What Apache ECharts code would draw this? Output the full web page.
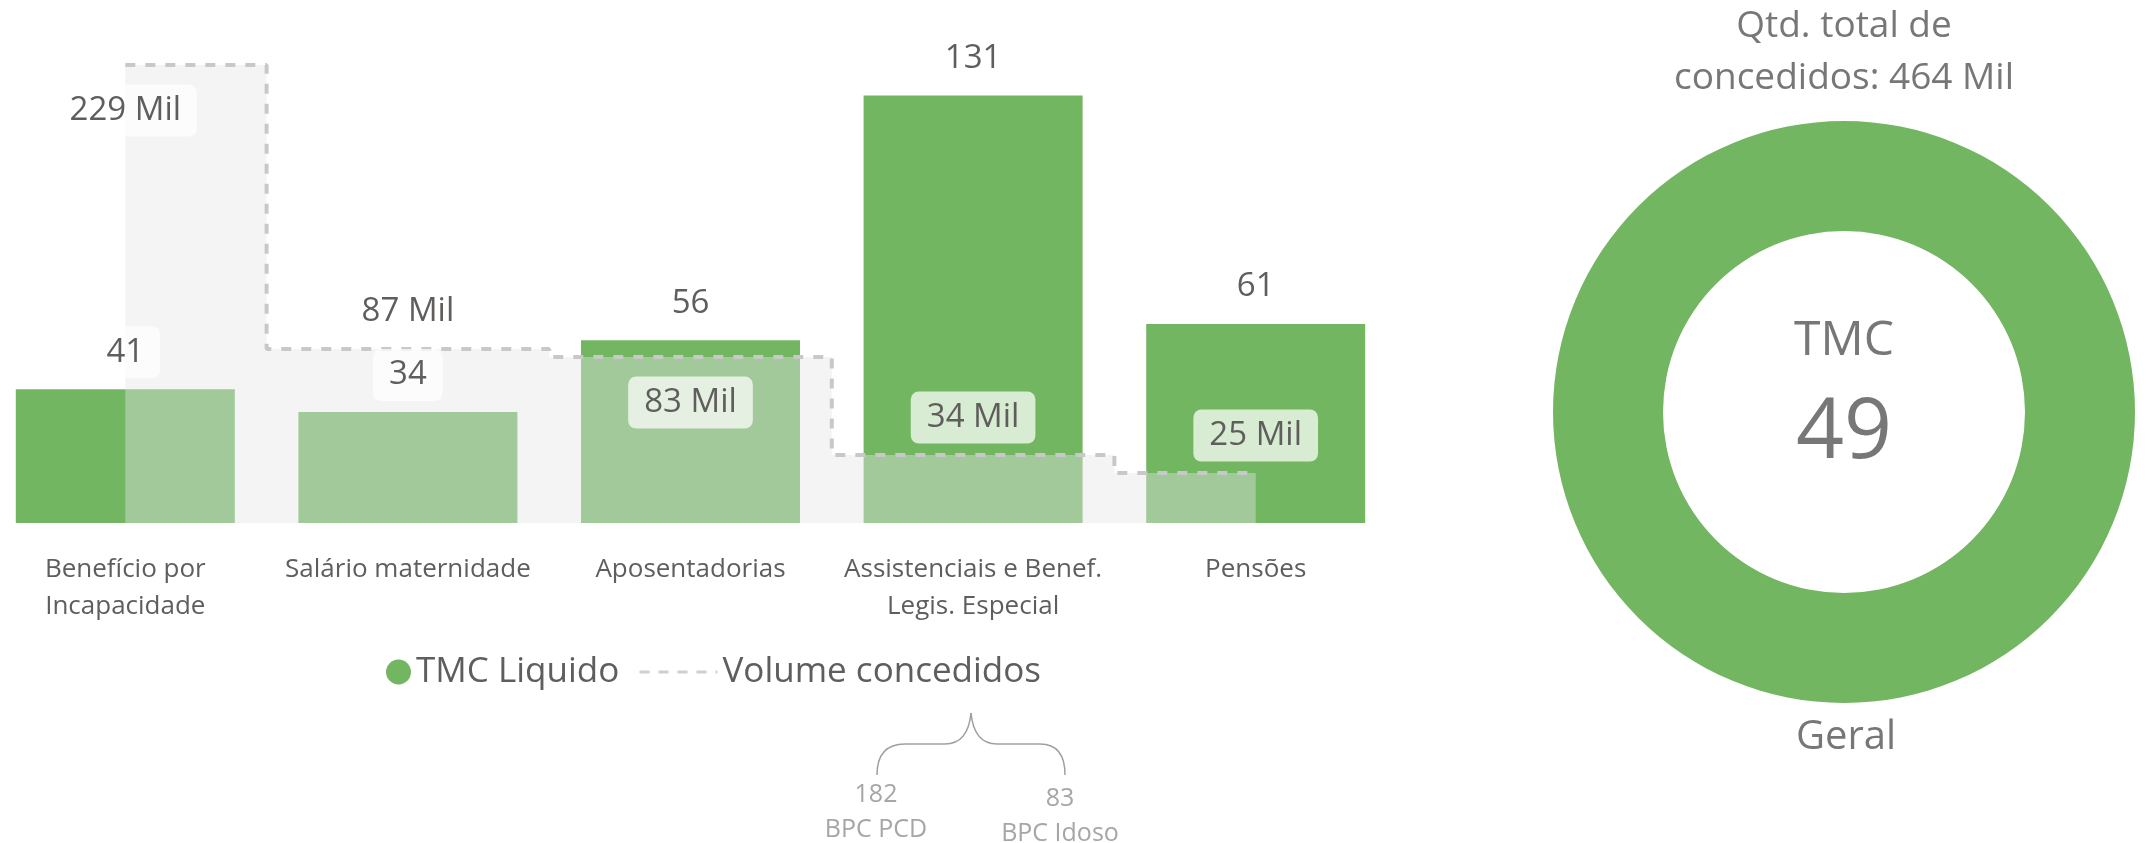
<!DOCTYPE html>
<html>
<head>
<meta charset="utf-8">
<title>TMC Liquido x Volume concedidos</title>
<script src="https://cdn.jsdelivr.net/npm/echarts@6/dist/echarts.min.js"></script>
<style>
  html, body { margin: 0; padding: 0; background: #fff; }
  #chart { width: 2146px; height: 843px; }
</style>
</head>
<body>
<div id="chart"></div>
<script>
const categories = [
  'Benefício por\nIncapacidade',
  'Salário maternidade',
  'Aposentadorias',
  'Assistenciais e Benef.\nLegis. Especial',
  'Pensões'
];
const tmcLiquido = [41, 34, 56, 131, 61];
const volumeConcedidos = [229, 87, 83, 34, 25]; // em mil
const tmcGeral = 49;
const totalConcedidosText = 'Qtd. total de\nconcedidos: 464 Mil';
const bpcValues = [182, 83];
const bpcNames = ['BPC PCD', 'BPC Idoso'];

const volumeLabelSide = ['bottom', 'top', 'bottom', 'top', 'top'];

const GREEN = '#73b662';
const TEXT = '#605e5c';
const GREY = '#777777';

const labelBox = {
  show: true,
  fontSize: 33,
  lineHeight: 40,
  color: TEXT,
  backgroundColor: 'rgba(255,255,255,0.72)',
  borderRadius: 8,
  padding: [6, 16],
  distance: 11
};

// chave sob "Volume concedidos" (BPC PCD / BPC Idoso)
const braceStyle = { fill: null, stroke: '#a0a0a0', lineWidth: 1.5 };
const brace = [
  { type: 'bezierCurve', shape: { x1: 877, y1: 775, cpx1: 877, cpy1: 744, x2: 905, y2: 744 } },
  { type: 'line', shape: { x1: 905, y1: 744, x2: 945, y2: 744 } },
  { type: 'bezierCurve', shape: { x1: 945, y1: 744, cpx1: 968, cpy1: 744, x2: 971, y2: 713 } },
  { type: 'bezierCurve', shape: { x1: 971, y1: 713, cpx1: 974, cpy1: 744, x2: 997, y2: 744 } },
  { type: 'line', shape: { x1: 997, y1: 744, x2: 1040, y2: 744 } },
  { type: 'bezierCurve', shape: { x1: 1040, y1: 744, cpx1: 1065, cpy1: 744, x2: 1065, y2: 775 } }
].map((el) => Object.assign(el, { style: braceStyle, silent: true }));

const textEl = (x, y, text, size, color, lineHeight) => ({
  type: 'text',
  x: x,
  y: y,
  silent: true,
  style: {
    text: text,
    fontFamily: 'Open Sans',
    fontSize: size,
    lineHeight: lineHeight || Math.round(size * 1.3),
    fill: color,
    textAlign: 'center',
    textVerticalAlign: 'middle'
  }
});

const buildOption = () => {
  return {
    animation: false,
    textStyle: { fontFamily: 'Open Sans' },
    grid: {
      left: -16,
      width: 1413,
      top: 63,
      height: 460,
      outerBoundsMode: 'none'
    },
    legend: [
      {
        data: ['TMC Liquido'],
        left: 386,
        top: 650,
        padding: 0,
        icon: 'circle',
        itemWidth: 25,
        itemHeight: 25,
        selectedMode: false,
        textStyle: { fontSize: 35, lineHeight: 44, color: TEXT }
      },
      {
        data: ['Volume concedidos'],
        left: 638,
        top: 650,
        padding: 0,
        itemWidth: 78,
        itemHeight: 20,
        selectedMode: false,
        itemStyle: { opacity: 0 },
        lineStyle: { color: '#d0d0d0', width: 3, type: [10, 9] },
        textStyle: { fontSize: 35, lineHeight: 44, color: TEXT }
      }
    ],
    xAxis: {
      type: 'category',
      data: categories,
      axisLine: { show: false },
      axisTick: { show: false },
      axisLabel: {
        interval: 0,
        margin: 28,
        fontSize: 26,
        lineHeight: 37,
        color: TEXT
      }
    },
    yAxis: [
      { type: 'value', min: 0, max: 141, show: false },
      { type: 'value', min: 0, max: 230, show: false }
    ],
    graphic: [
      textEl(1844, 52, totalConcedidosText, 37, GREY, 52),
      textEl(1846, 738, 'Geral', 40, GREY),
      textEl(876, 812, bpcValues[0] + '\n' + bpcNames[0], 25, '#a6a6a6', 35),
      textEl(1060, 816, bpcValues[1] + '\n' + bpcNames[1], 25, '#a6a6a6', 35)
    ].concat(brace),
    series: [
      {
        name: 'TMC Liquido',
        type: 'bar',
        data: tmcLiquido,
        barWidth: 219,
        barGap: '-100%',
        itemStyle: { color: GREEN },
        silent: true
      },
      {
        name: 'Volume concedidos',
        type: 'line',
        yAxisIndex: 1,
        step: 'middle',
        data: volumeConcedidos.map((v, i) => ({
          value: v,
          label: {
            position: volumeLabelSide[i],
            distance: volumeLabelSide[i] === 'bottom' ? 19 : 11
          }
        })),
        symbol: 'circle',
        symbolSize: 1,
        showSymbol: true,
        itemStyle: { color: 'rgba(0,0,0,0)' },
        lineStyle: { color: '#c8c8c8', width: 4, type: [10, 10] },
        areaStyle: { color: 'rgba(228,228,228,0.42)', opacity: 1, origin: 'start' },
        label: Object.assign({}, labelBox, {
          formatter: (p) => p.value + ' Mil'
        }),
        z: 3,
        silent: true
      },
      {
        // mesma série de barras, só para pôr os rótulos por cima da área
        name: 'TMC Liquido rótulos',
        type: 'bar',
        data: tmcLiquido,
        barWidth: 219,
        barGap: '-100%',
        itemStyle: { color: 'rgba(0,0,0,0)' },
        label: Object.assign({}, labelBox, { position: 'top' }),
        z: 5,
        silent: true
      },
      {
        name: 'TMC Geral',
        type: 'pie',
        center: [1844, 412],
        radius: [181, 291],
        silent: true,
        itemStyle: { color: GREEN },
        label: {
          show: true,
          position: 'center',
          formatter: (p) => '{a|TMC}\n{b|' + p.value + '}',
          rich: {
            a: { fontSize: 48, lineHeight: 44, color: GREY, fontFamily: 'Open Sans' },
            b: { fontSize: 84, lineHeight: 142, color: GREY, fontFamily: 'Open Sans' }
          }
        },
        labelLine: { show: false },
        data: [{ name: 'Geral', value: tmcGeral }]
      }
    ]
  };
};

const chartInstance = echarts.init(document.getElementById('chart'));
chartInstance.setOption(buildOption());

window.addEventListener('resize', () => {
  chartInstance.resize();
});
</script>
</body>
</html>
